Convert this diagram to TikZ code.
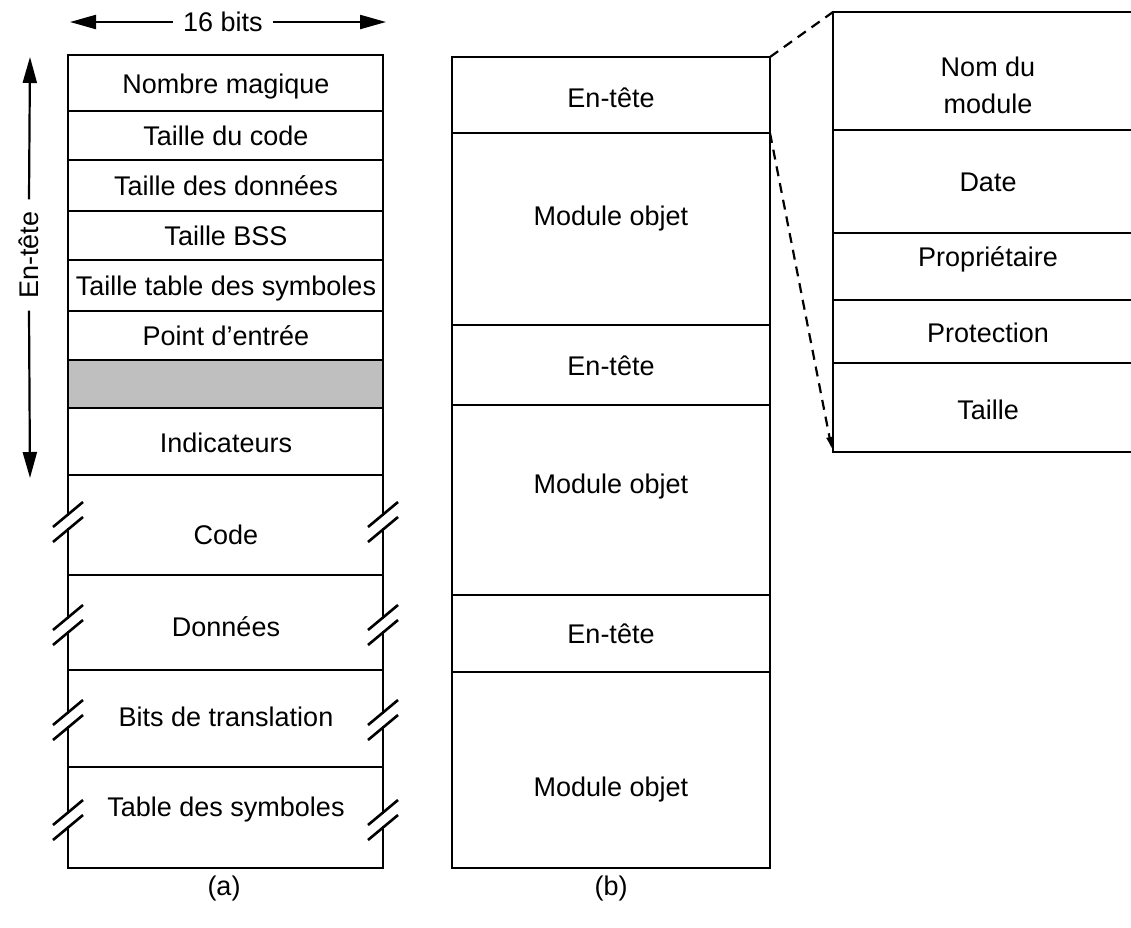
\documentclass[tikz,border=0pt]{standalone}
\usepackage{fontspec}
\setmainfont{Liberation Sans}
\usetikzlibrary{arrows.meta}
\begin{document}
\begin{tikzpicture}[x=1pt,y=-1pt,
  frame/.style={line width=2.2pt, line cap=rect},
  lbl/.style={font=\fontsize{27}{37}\selectfont, inner sep=0pt, text height=19pt, text depth=0pt},
  lbl2/.style={font=\fontsize{27}{37}\selectfont, inner sep=0pt, align=center},
  dimarrow/.style={line width=2.2pt, -{Triangle[length=26pt,width=14pt]}},
  brk/.style={line width=2.6pt},
  zoomline/.style={line width=2.2pt, dash pattern=on 10pt off 7pt},
]
\useasboundingbox (0,0) rectangle (1131,927);

% ---------- (a) object file layout ----------
\fill[black!25] (68,360) rectangle (383,408);
\foreach \y in {55,111,160,211,260,311,360,408,475,575,670,767,868}
  \draw[frame] (68,\y) -- (383,\y);
\foreach \x in {68,383}{
  \draw[frame] (\x,55) -- (\x,514.5) (\x,529.5) -- (\x,617.5) (\x,632.5) -- (\x,712.5)
               (\x,727.5) -- (\x,812.5) (\x,827.5) -- (\x,868);
  \foreach \y in {522,625,720,820}{
    \draw[brk] (\x-15,\y+5) -- (\x+15,\y-20);
    \draw[brk] (\x-15,\y+20) -- (\x+15,\y-5);
  }
}
\node[lbl] (nm)   at (226,84)  {Nombre magique};
\node[lbl] (tc)   at (226,136) {Taille du code};
\node[lbl] (td)   at (226,186) {Taille des données};
\node[lbl] (tb)   at (226,236) {Taille BSS};
\node[lbl] (tt)   at (226,286) {Taille table des symboles};
\node[lbl] (pe)   at (226,336) {Point d'entrée};
\node[lbl] (ind)  at (226,443) {Indicateurs};
\node[lbl] (code) at (226,535) {Code};
\node[lbl] (don)  at (226,627) {Données};
\node[lbl] (bits) at (226,717) {Bits de translation};
\node[lbl] (sym)  at (226,807) {Table des symboles};

% width dimension
\node[lbl, inner xsep=10pt] (w16) at (223,22) {16 bits};
\coordinate (wl) at (70,22);
\coordinate (wr) at (386,22);
\draw[dimarrow] (w16.west) -- (wl);
\draw[dimarrow] (w16.east) -- (wr);

% header dimension
\node[lbl, rotate=90, inner xsep=12pt] (hdr) at (29,255) {En-tête};
\coordinate (ht) at (30,57);
\coordinate (hb) at (30,478);
\draw[dimarrow] (hdr.east) -- (ht);
\draw[dimarrow] (hdr.west) -- (hb);

% ---------- (b) library layout ----------
\draw[frame] (452,57) rectangle (770,868);
\foreach \y in {133,325,405,595,672}
  \draw[frame] (452,\y) -- (770,\y);
\node[lbl] (h1) at (611,98)  {En-tête};
\node[lbl] (m1) at (611,216) {Module objet};
\node[lbl] (h2) at (611,366) {En-tête};
\node[lbl] (m2) at (611,484) {Module objet};
\node[lbl] (h3) at (611,634) {En-tête};
\node[lbl] (m3) at (611,787) {Module objet};

% header detail
\draw[frame] (1131,12) -- (833,12) -- (833,452) -- (1131,452);
\foreach \y in {130,233,300,363}
  \draw[frame] (833,\y) -- (1131,\y);
\node[lbl2] (nom)  at (988,85)  {Nom du\\module};
\node[lbl]  (date) at (988,182) {Date};
\node[lbl]  (prop) at (988,257) {Propriétaire};
\node[lbl]  (prot) at (988,333) {Protection};
\node[lbl]  (tail) at (988,410) {Taille};

\coordinate (htr) at (770,57);
\coordinate (hbr) at (770,133);
\coordinate (dtl) at (833,12);
\coordinate (dbl) at (832,450);
\draw[zoomline] (htr) -- (dtl);
\draw[zoomline, -{Latex[length=13pt,width=7pt]}] (hbr) -- (dbl);

% captions
\node[lbl, text height=19pt, text depth=5pt] (ca) at (224,888) {(a)};
\node[lbl, text height=19pt, text depth=5pt] (cb) at (611,888) {(b)};
\end{tikzpicture}
\end{document}
